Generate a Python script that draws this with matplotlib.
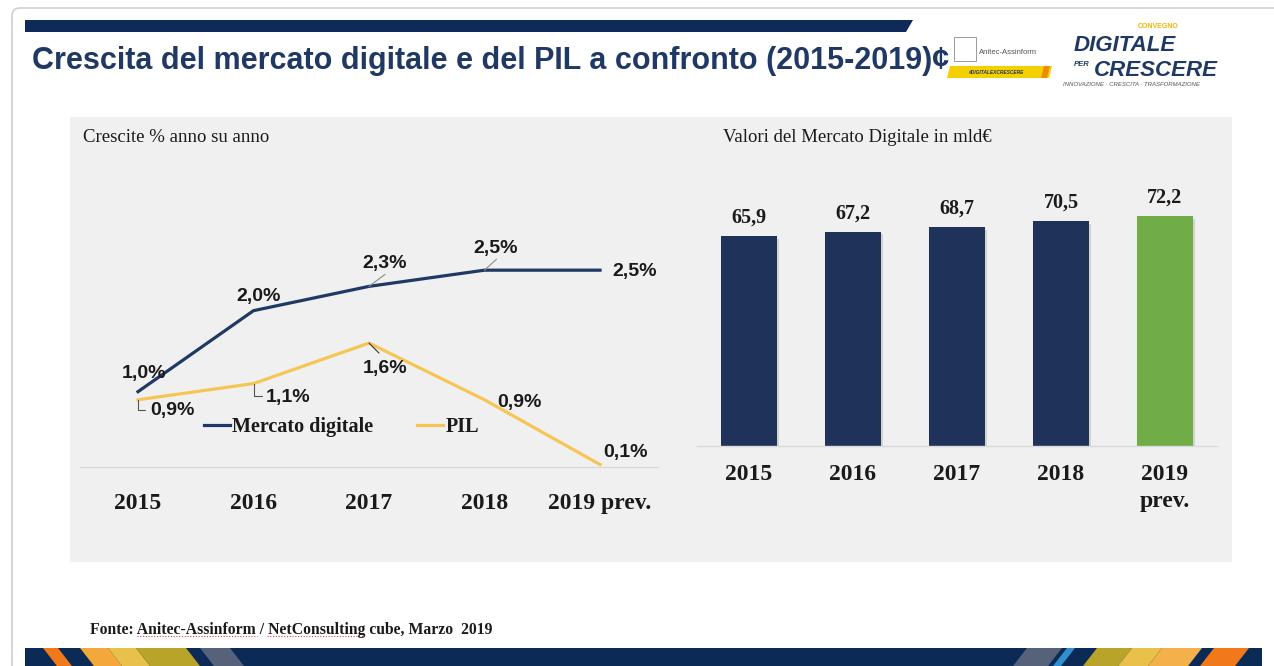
import matplotlib
matplotlib.use("Agg")
import matplotlib.pyplot as plt
from matplotlib.patches import Rectangle, Polygon, FancyBboxPatch
from matplotlib.lines import Line2D
import matplotlib.patheffects as pe

W, H = 1274, 666

# ---- data ----
years = ["2015", "2016", "2017", "2018", "2019 prev."]
bar_years = ["2015", "2016", "2017", "2018", "2019\nprev."]
mercato = [1.0, 2.0, 2.3, 2.5, 2.5]
pil = [0.9, 1.1, 1.6, 0.9, 0.1]
valori = [65.9, 67.2, 68.7, 70.5, 72.2]

NAVY = "#1f3864"
BAR_NAVY = "#1f3259"
YELLOW = "#f6c654"
GREEN = "#70ad47"
PANEL = "#f0f0f0"
TXT = "#1a1a1a"
SERIF = "Liberation Serif"
SANS = "Liberation Sans"

# label offsets in pixels (layout only)
merc_off = [(6, 18), (5, 14), (16, 23), (11, 22), (35, -1)]
pil_off = [(34, -11), (35, -14), (16, -25), (35, -3), (25, 12)]


def pct(v):
    return f"{v:.1f}".replace(".", ",") + "%"


def px_axes(x0, y0, x1, y1):
    return fig.add_axes([x0 / W, 1 - y1 / H, (x1 - x0) / W, (y1 - y0) / H])


fig = plt.figure(figsize=(W / 100, H / 100), dpi=100)
fig.patch.set_facecolor("white")

# ---- slide background (pixel coords) ----
bg = fig.add_axes([0, 0, 1, 1])
bg.set_xlim(0, W)
bg.set_ylim(H, 0)
bg.axis("off")

bg.add_patch(FancyBboxPatch((12, 8), 1300, 720, boxstyle="round,pad=0,rounding_size=8",
                            fc="none", ec="#cfcfcf", lw=1.2))
bg.add_patch(Polygon([(25, 20), (913, 20), (906, 32), (25, 32)], closed=True, fc="#0e2a5a", ec="none"))

bg.text(32, 61, "Crescita del mercato digitale e del PIL a confronto (2015-2019)¢",
        family=SANS, weight="bold", fontsize=22, color=NAVY, va="center", ha="left")

# logos (approximate)
bg.add_patch(Polygon([(950, 66), (1052, 66), (1049, 78), (947, 78)], closed=True, fc="#f5d000", ec="none"))
bg.add_patch(Polygon([(1044, 66), (1050, 66), (1047, 78), (1041, 78)], closed=True, fc="#f08a00", ec="none"))
bg.text(997, 72, "#DIGITALEXCRESCERE", fontsize=3.5, weight="bold", style="italic",
        color=NAVY, ha="center", va="center", family=SANS)
bg.text(979, 53, "Anitec-Assinform", fontsize=5.5, color="#555555", ha="left", va="center", family=SANS)
bg.add_patch(Rectangle((954, 37), 22, 24, fc="none", ec="#8a8a8a", lw=0.6))
bg.text(1158, 27, "CONVEGNO", fontsize=5, weight="bold", color="#f0b400", ha="center", va="center", family=SANS)
bg.text(1074, 51, "DIGITALE", fontsize=16, weight="bold", style="italic", color=NAVY,
        ha="left", va="baseline", family=SANS)
bg.text(1074, 65, "PER", fontsize=5.5, weight="bold", style="italic", color=NAVY, ha="left", va="center", family=SANS)
bg.text(1094, 76, "CRESCERE", fontsize=16, weight="bold", style="italic", color=NAVY,
        ha="left", va="baseline", family=SANS)
bg.text(1063, 85, "INNOVAZIONE · CRESCITA · TRASFORMAZIONE", fontsize=4.3, style="italic",
        color="#555555", ha="left", va="center", family=SANS)

# grey panel
bg.add_patch(Rectangle((70, 117), 1162, 445, fc=PANEL, ec="none"))
bg.text(83, 137, "Crescite % anno su anno", family=SERIF, fontsize=13.5, color=TXT, va="center")
bg.text(723, 137, "Valori del Mercato Digitale in mld€", family=SERIF, fontsize=13.5, color=TXT, va="center")

# footer
bg.text(90, 630, "Fonte: Anitec-Assinform / NetConsulting cube, Marzo  2019", family=SERIF,
        weight="bold", fontsize=11.3, color=TXT, va="center")
bg.plot([137, 257], [636, 636], color="#e04040", lw=0.8, ls=(0, (1, 1.5)))
bg.plot([267, 363], [636, 636], color="#e04040", lw=0.8, ls=(0, (1, 1.5)))

# bottom band with stripes
bg.add_patch(Rectangle((25, 648), 1237, 18, fc="#0b2a55", ec="none"))
stripes = [(43, 15, "#f07a1a"), (80, 28, "#f4a73a"), (108, 28, "#e9c04a"), (136, 50, "#b9a42a"),
           (200, 30, "#56627a"), (1013, 35, "#56627a"), (1053, 8, "#2f8fd0"), (1083, 35, "#b9a42a"),
           (1118, 30, "#e9c04a"), (1148, 40, "#f4b04a"), (1200, 35, "#f07a1a")]
for x0, w, c in stripes:
    if x0 < 600:
        pts = [(x0, 648), (x0 + w, 648), (x0 + w + 14, 666), (x0 + 14, 666)]
    else:
        pts = [(x0 + 14, 648), (x0 + w + 14, 648), (x0 + w, 666), (x0, 666)]
    bg.add_patch(Polygon(pts, closed=True, fc=c, ec="none"))

# ---- left chart: growth lines ----
ax = px_axes(80.25, 143, 657.75, 467)
ax.set_facecolor("none")
x = list(range(len(years)))
ax.plot(x, mercato, color=NAVY, lw=2.3, solid_joinstyle="round")
ax.plot(x, pil, color=YELLOW, lw=2.3, solid_joinstyle="round")
ax.set_xlim(-0.5, 4.5)
ax.set_ylim(0.07, 4.07)
ax.set_xticks(x)
ax.set_xticklabels(years, family=SERIF, weight="bold", fontsize=17, color=TXT)
ax.tick_params(axis="x", length=0, pad=19)
ax.set_yticks([])
for s in ["left", "right", "top"]:
    ax.spines[s].set_visible(False)
ax.spines["bottom"].set_color("#d9d9d9")
ax.spines["bottom"].set_linewidth(1)

lab = dict(textcoords="offset pixels", ha="center", va="center", family=SANS,
           weight="bold", fontsize=14, color=TXT)
for i, v in enumerate(mercato):
    ax.annotate(pct(v), xy=(i, v), xytext=merc_off[i], **lab)
for i, v in enumerate(pil):
    ax.annotate(pct(v), xy=(i, v), xytext=pil_off[i], **lab)

# leader lines
line_kw = dict(arrowstyle="-", shrinkA=0, shrinkB=0, lw=0.8)
ax.annotate("", xy=(2, mercato[2]), xytext=(16, 12), textcoords="offset pixels",
            arrowprops=dict(color="#8c8c8c", **line_kw))
ax.annotate("", xy=(3, mercato[3]), xytext=(12, 11), textcoords="offset pixels",
            arrowprops=dict(color="#8c8c8c", **line_kw))
ax.annotate("", xy=(2, pil[2]), xytext=(10, -10), textcoords="offset pixels",
            arrowprops=dict(color="#333333", **line_kw))
for i, (dx, dy) in zip([0, 1], [(7, -10), (8, -12)]):
    ax.annotate("", xy=(i, pil[i]), xytext=(dx, dy), textcoords="offset pixels",
                arrowprops=dict(color="#555555", connectionstyle="angle,angleA=0,angleB=90,rad=0",
                                **line_kw))

handles = [Line2D([], [], color=NAVY, lw=2.3, label="Mercato digitale"),
           Line2D([], [], color=YELLOW, lw=2.3, label="PIL")]
ax.legend(handles=handles, loc="center", bbox_to_anchor=(0.452, 0.1235), ncol=2, frameon=False,
          prop=dict(family=SERIF, weight="bold", size=14.5), handlelength=1.3,
          handletextpad=0.1, columnspacing=2.2, labelcolor=TXT)

# ---- right chart: market value bars ----
ax2 = px_axes(697, 159, 1217, 446)
ax2.set_facecolor("none")
colors = [BAR_NAVY] * 4 + [GREEN]
bars = ax2.bar(range(len(valori)), valori, width=0.53, color=colors)
for b in bars:
    b.set_path_effects([pe.SimplePatchShadow(offset=(2, -2), shadow_rgbFace="#9a9a9a", alpha=0.35),
                        pe.Normal()])
ax2.bar_label(bars, labels=[f"{v:.1f}".replace(".", ",") for v in valori], padding=6,
              family=SERIF, weight="bold", fontsize=14.5, color=TXT)
ax2.set_xlim(-0.5, 4.5)
ax2.set_ylim(0, 90)
ax2.set_xticks(range(len(valori)))
ax2.set_xticklabels(bar_years, family=SERIF, weight="bold", fontsize=17, color=TXT, linespacing=1.4)
ax2.tick_params(axis="x", length=0, pad=13)
ax2.set_yticks([])
for s in ["left", "right", "top"]:
    ax2.spines[s].set_visible(False)
ax2.spines["bottom"].set_color("#d9d9d9")
ax2.spines["bottom"].set_linewidth(1)

fig.savefig("out.png", dpi=100)
